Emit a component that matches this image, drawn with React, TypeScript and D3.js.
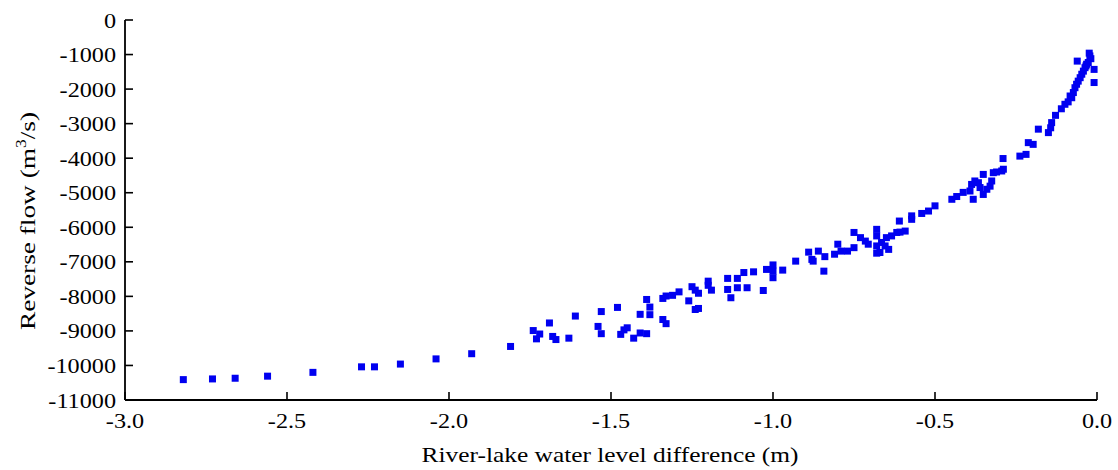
import React from "react";
import * as d3 from "d3";

const levelDiff: number[] = [
  -2.82, -2.73, -2.66, -2.56, -2.42, -2.27, -2.23, -2.15, -2.04, -1.93,
  -1.81, -1.74, -1.72, -1.73, -1.69, -1.68, -1.67, -1.63, -1.61, -1.54,
  -1.53, -1.53, -1.48, -1.47, -1.46, -1.45, -1.43, -1.41, -1.41, -1.39,
  -1.39, -1.38, -1.38, -1.34, -1.34, -1.33, -1.33, -1.31, -1.29, -1.26,
  -1.25, -1.24, -1.24, -1.23, -1.23, -1.2, -1.2, -1.19, -1.14, -1.14,
  -1.13, -1.11, -1.11, -1.09, -1.08, -1.06, -1.03, -1.02, -1.0, -1.0,
  -1.0, -0.97, -0.93, -0.89, -0.876, -0.86, -0.843, -0.84, -0.88, -0.81,
  -0.8, -0.79, -0.77, -0.75, -0.75, -0.73, -0.715, -0.706, -0.68, -0.68,
  -0.68, -0.68, -0.67, -0.665, -0.654, -0.643, -0.65, -0.634, -0.618, -0.608,
  -0.592, -0.61, -0.572, -0.572, -0.541, -0.52, -0.5, -0.448, -0.433, -0.413,
  -0.392, -0.387, -0.377, -0.366, -0.382, -0.361, -0.351, -0.351, -0.34, -0.33,
  -0.325, -0.32, -0.31, -0.294, -0.289, -0.29, -0.238, -0.219, -0.212, -0.197,
  -0.181, -0.15, -0.143, -0.14, -0.128, -0.11, -0.099, -0.089, -0.083, -0.078,
  -0.073, -0.068, -0.063, -0.058, -0.052, -0.047, -0.042, -0.037, -0.034, -0.061,
  -0.032, -0.024, -0.019, -0.009, -0.009, -0.027, -0.022,
];

const reverseFlow: number[] = [
  -10410, -10390, -10370, -10310, -10200, -10040, -10040, -9960, -9810, -9660,
  -9450, -8990, -9090, -9230, -8770, -9160, -9250, -9210, -8570, -8870,
  -8440, -9080, -8320, -9100, -8970, -8910, -9210, -8520, -9060, -9080,
  -8090, -8310, -8530, -8060, -8670, -8790, -7990, -7970, -7870, -8130,
  -7720, -7820, -8380, -8350, -7910, -7560, -7680, -7820, -7480, -7800,
  -8040, -7480, -7750, -7310, -7750, -7290, -7830, -7220, -7090, -7270,
  -7460, -7240, -6980, -6720, -6980, -6690, -7270, -6850, -6930, -6780,
  -6490, -6690, -6690, -6590, -6150, -6300, -6400, -6490, -6060, -6250,
  -6540, -6750, -6730, -6440, -6540, -6640, -6300, -6250, -6150, -6140,
  -6110, -5820, -5770, -5670, -5600, -5530, -5380, -5190, -5110, -4990,
  -4950, -4760, -4660, -4710, -5190, -4850, -5050, -4470, -4900, -4810,
  -4660, -4420, -4400, -4370, -4320, -4010, -3940, -3890, -3550, -3600,
  -3160, -3260, -3120, -2970, -2760, -2570, -2440, -2370, -2200, -2250,
  -2100, -1960, -1860, -1770, -1670, -1570, -1480, -1380, -1330, -1190,
  -1280, -960, -1120, -1430, -1810, -1230, -1040,
];

const xTicks: number[] = [-3.0, -2.5, -2.0, -1.5, -1.0, -0.5, 0.0];
const yTicks: number[] = [0, -1000, -2000, -3000, -4000, -5000, -6000, -7000, -8000, -9000, -10000, -11000];

const xTitle = "River-lake water level difference (m)";
const yTitleMain = "Reverse flow (m";
const yTitleSup = "3";
const yTitleEnd = "/s)";

export default function App() {
  const W = 1118;
  const H = 470;
  const left = 125;
  const right = 1097;
  const top = 20;
  const bottom = 400;
  const x = d3.scaleLinear().domain([-3, 0]).range([left, right]);
  const y = d3.scaleLinear().domain([-11000, 0]).range([bottom, top]);
  const font = "Times New Roman, Liberation Serif, Tinos, Nimbus Roman, serif";
  const sz = 7;
  const color = "#0000f0";

  return (
    <svg
      width={W}
      height={H}
      style={{ position: "absolute", left: 0, top: 0, background: "#fff", fontFamily: font }}
    >
      <rect x={0} y={0} width={W} height={H} fill="#fff" />
      <line x1={left} y1={top} x2={left} y2={bottom} stroke="#000" strokeWidth={1.8} />
      <line x1={left} y1={bottom} x2={right} y2={bottom} stroke="#000" strokeWidth={1.8} />
      {yTicks.map((t) => (
        <g key={"y" + t}>
          <line x1={left} x2={left + 8} y1={y(t)} y2={y(t)} stroke="#000" strokeWidth={1.6} />
          <text
            transform={`translate(${left - 9},${y(t) + 7.5}) scale(1.1,1)`}
            textAnchor="end"
            fontSize={22}
            fill="#000"
          >
            {t === 0 ? "0" : d3.format("d")(t).replace("−", "-")}
          </text>
        </g>
      ))}
      {xTicks.map((t) => (
        <g key={"x" + t}>
          <line x1={x(t)} x2={x(t)} y1={bottom} y2={bottom - 8} stroke="#000" strokeWidth={1.6} />
          <text
            transform={`translate(${x(t)},${bottom + 28}) scale(1.1,1)`}
            textAnchor="middle"
            fontSize={22}
            fill="#000"
          >
            {t.toFixed(1)}
          </text>
        </g>
      ))}
      <text
        x={610}
        y={462}
        textAnchor="middle"
        fontSize={22}
        textLength={377}
        lengthAdjust="spacingAndGlyphs"
        fill="#000"
      >
        {xTitle}
      </text>
      <text
        transform={`translate(35,221) rotate(-90)`}
        textAnchor="middle"
        fontSize={22}
        fill="#000"
        textLength={218}
        lengthAdjust="spacingAndGlyphs"
      >
        {yTitleMain}
        <tspan fontSize={14} dy={-9}>{yTitleSup}</tspan>
        <tspan dy={9}>{yTitleEnd}</tspan>
      </text>
      {levelDiff.map((d, i) => (
        <rect
          key={i}
          x={x(d) - sz / 2}
          y={y(reverseFlow[i]) - sz / 2}
          width={sz}
          height={sz}
          fill={color}
        />
      ))}
    </svg>
  );
}
